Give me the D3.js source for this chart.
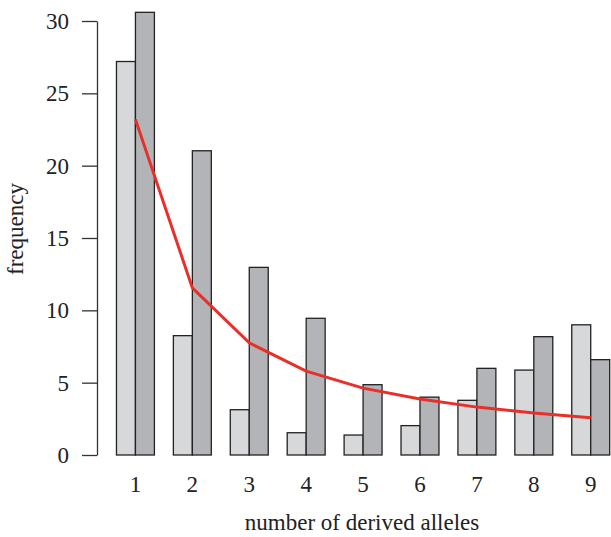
<!DOCTYPE html>
<html>
<head>
<meta charset="utf-8">
<script src="https://cdnjs.cloudflare.com/ajax/libs/d3/7.8.5/d3.min.js"></script>
<style>
  body { margin: 0; background: #fff; }
  text { font-family: "Liberation Serif", "DejaVu Serif", serif; fill: #222; }
</style>
</head>
<body>
<div id="chart"></div>
<script>
// data
var alleles = ["1", "2", "3", "4", "5", "6", "7", "8", "9"];
var lightBars = [27.2, 8.25, 3.13, 1.54, 1.38, 2.03, 3.78, 5.87, 9.0];
var darkBars = [30.6, 21.03, 12.97, 9.45, 4.86, 4.0, 5.99, 8.18, 6.59];
var expected = [23.2, 11.55, 7.75, 5.8, 4.62, 3.87, 3.31, 2.9, 2.58];
var yTicks = [0, 5, 10, 15, 20, 25, 30];

var svgWidth = 611;
var svgHeight = 537;
var unit = 18.97;          // one bar width in px
var left = 97.5;

var svg = d3.select("#chart")
  .append("svg")
  .attr("width", svgWidth)
  .attr("height", svgHeight);

// groups: 1 unit gap + 2 bars
var x = d3.scaleBand()
  .domain(alleles)
  .range([left, left + 28 * unit])
  .paddingInner(1 / 3)
  .paddingOuter(1 / 3);

var xSub = d3.scaleBand()
  .domain(["light", "dark"])
  .range([0, x.bandwidth()]);

var y = d3.scaleLinear()
  .domain([0, 30])
  .range([455, 21]);

// y axis
var yAxis = d3.axisLeft(y)
  .tickValues(yTicks)
  .tickSize(15)
  .tickSizeOuter(0)
  .tickPadding(13);

var yG = svg.append("g")
  .attr("transform", "translate(97, 0)")
  .call(yAxis);
yG.select(".domain").attr("stroke", "#333").attr("stroke-width", 1.3);
yG.selectAll(".tick line").attr("stroke", "#333").attr("stroke-width", 1.3);
yG.selectAll(".tick text")
  .attr("font-size", "23px")
  .attr("font-family", "Liberation Serif")
  .attr("fill", "#222");

// bars
var groups = svg.selectAll(null)
  .data(alleles)
  .enter()
  .append("g")
  .attr("transform", d => `translate(${x(d)}, 0)`);

groups.append("rect")
  .attr("x", xSub("light"))
  .attr("y", (d, i) => y(lightBars[i]))
  .attr("width", xSub.bandwidth())
  .attr("height", (d, i) => y(0) - y(lightBars[i]))
  .attr("fill", "#d7d8da")
  .attr("stroke", "#222")
  .attr("stroke-width", 1.3);

groups.append("rect")
  .attr("x", xSub("dark"))
  .attr("y", (d, i) => y(darkBars[i]))
  .attr("width", xSub.bandwidth())
  .attr("height", (d, i) => y(0) - y(darkBars[i]))
  .attr("fill", "#b3b4b8")
  .attr("stroke", "#222")
  .attr("stroke-width", 1.3);

// x tick labels
svg.selectAll(null)
  .data(alleles)
  .enter()
  .append("text")
  .attr("x", d => x(d) + x.bandwidth() / 2)
  .attr("y", 492)
  .attr("text-anchor", "middle")
  .attr("font-size", "23px")
  .text(d => d);

// expected line
var line = d3.line()
  .x((d, i) => x(alleles[i]) + x.bandwidth() / 2)
  .y(d => y(d));

svg.append("path")
  .datum(expected)
  .attr("d", line)
  .attr("fill", "none")
  .attr("stroke", "#e8302a")
  .attr("stroke-width", 3);

// axis labels
svg.append("text")
  .attr("x", 362)
  .attr("y", 530)
  .attr("text-anchor", "middle")
  .attr("font-size", "23px")
  .text("number of derived alleles");

svg.append("text")
  .attr("transform", "translate(23, 229) rotate(-90)")
  .attr("text-anchor", "middle")
  .attr("font-size", "23px")
  .text("frequency");
</script>
</body>
</html>
